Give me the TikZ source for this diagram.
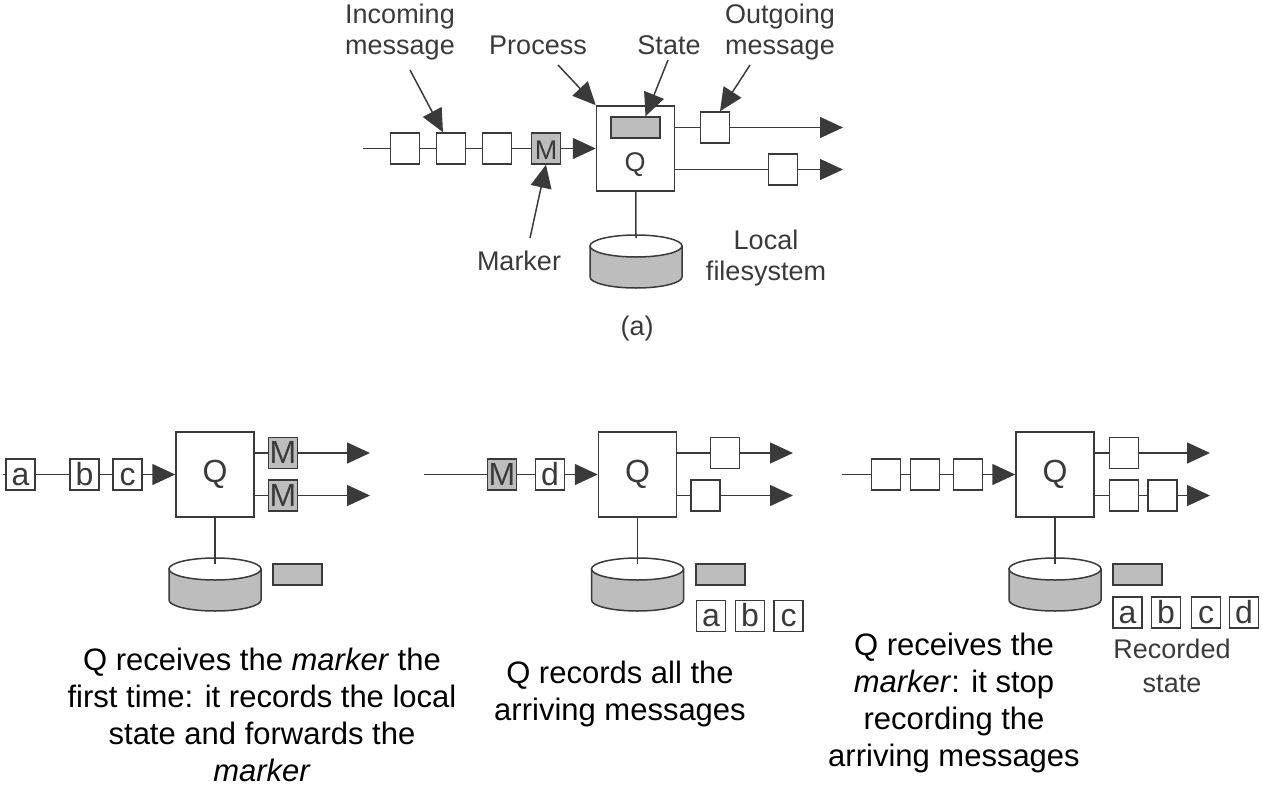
\documentclass[tikz,border=0pt]{standalone}
\usepackage{fontspec}
\setmainfont{Liberation Sans}
\usetikzlibrary{arrows.meta}
\definecolor{boxgray}{HTML}{BDBDBD}
\definecolor{inkgray}{HTML}{3A3A3A}
\newcommand{\drum}[2]{%
  \filldraw[wire,fill=boxgray] ({#1-46},#2) -- ({#1-46},{#2+31})
    arc[start angle=180,end angle=0,x radius=46,y radius=11] -- ({#1+46},#2) -- cycle;
  \filldraw[wire,fill=white] (#1,#2) ellipse [x radius=46,y radius=11];
}

\begin{document}
\begin{tikzpicture}[x=1pt,y=-1pt,line width=1.5pt,
  >={Triangle[length=23pt,width=21pt]},
  every node/.style={font=\fontsize{27}{31}\selectfont,text=inkgray},
  wire/.style={draw=inkgray},
  msg/.style={draw=inkgray,fill=white,minimum width=29pt,minimum height=31pt,inner sep=0pt,
    text height=21pt,text depth=0pt},
  mrk/.style={msg,fill=boxgray},
  proc/.style={draw=inkgray,fill=white,minimum width=78pt,minimum height=85pt,inner sep=0pt},
  slab/.style={draw=inkgray,fill=boxgray,minimum width=49pt,minimum height=21pt,inner sep=0pt},
  caption/.style={font=\fontsize{31}{37}\selectfont,text=black,align=center}]
\useasboundingbox (0,0) rectangle (1263,787);

% (a)
\coordinate (ain) at (363,148.5);
\node[msg] (a1) at (405,148.5) {};
\node[msg] (a2) at (451,148.5) {};
\node[msg] (a3) at (497,148.5) {};
\node[mrk] (am) at (546,148.5) {M};
\node[proc] (aq) at (635.5,148.5) {};
\node[slab] (ast) at (635.5,127.5) {};
\node (aql) at (635,165) {Q};
\node[msg] (ao1) at (715,127.5) {};
\node[msg] (ao2) at (783,169.5) {};
\coordinate (aend1) at (843,127.5);
\coordinate (aend2) at (843,169.5);
\drum{636}{246}
\coordinate (adisk) at (636,238);
\draw[wire] (ain) -- (a1) -- (a2) -- (a3) -- (am);
\draw[wire,->] (am) -- (aq);
\draw[wire] (aq.east |- ao1) -- (ao1);
\draw[wire,->] (ao1) -- (aend1);
\draw[wire] (aq.east |- ao2) -- (ao2);
\draw[wire,->] (ao2) -- (aend2);
\draw[wire] (aq) -- (adisk);

\node[align=center] (lin) at (400,32) {Incoming\\message};
\node (lproc) at (538,45) {Process};
\node (lstate) at (669,45) {State};
\node[align=center] (lout) at (780,32) {Outgoing\\message};
\node (lmark) at (519,261) {Marker};
\node[align=center] (lfs) at (766,258) {Local\\filesystem};
\node (lsub) at (637,329) {(a)};
\coordinate (pin) at (410,70);
\coordinate (pproc) at (558,65);
\coordinate (pstate) at (668,60);
\coordinate (pout) at (750,65);
\coordinate (pmark) at (530,238);
\draw[wire,->] (pin) -- ([xshift=-8pt]a2.north);
\draw[wire,->] (pproc) -- (aq.north west);
\draw[wire,->] (pstate) -- ([xshift=10pt]ast.north);
\draw[wire,->] (pout) -- ([xshift=5pt]ao1.north);
\draw[wire,->] (pmark) -- (am.south);

\begin{scope}[every node/.append style={font=\fontsize{32}{32}\selectfont}]
% first marker
\coordinate (bin) at (3,474.5);
\node[msg] (b1) at (20.5,474.5) {a};
\node[msg] (b2) at (84.5,474.5) {b};
\node[msg] (b3) at (127.5,474.5) {c};
\node[proc] (bq) at (215,474.5) {Q};
\node[mrk] (bm1) at (283,453) {M};
\node[mrk] (bm2) at (283,495.5) {M};
\coordinate (bend1) at (370,453);
\coordinate (bend2) at (370,495.5);
\drum{215}{569}
\coordinate (bdisk) at (215,564);
\node[slab] (bst) at (297.5,574.5) {};
\draw[wire] (bin) -- (b1) -- (b2) -- (b3);
\draw[wire,->] (b3) -- (bq);
\draw[wire] (bq.east |- bm1) -- (bm1);
\draw[wire,->] (bm1) -- (bend1);
\draw[wire] (bq.east |- bm2) -- (bm2);
\draw[wire,->] (bm2) -- (bend2);
\draw[wire] (bq) -- (bdisk);
\node[caption] (bcap) at (262,715) {Q receives the \textit{marker} the\\first time: it records the local\\state and forwards the\\\textit{marker}};

% recording
\coordinate (cin) at (424,474.5);
\node[mrk] (cm) at (502,474.5) {M};
\node[msg] (c1) at (550,474.5) {d};
\node[proc] (cq) at (637.5,474.5) {Q};
\node[msg] (co1) at (725,453) {};
\node[msg] (co2) at (705.5,495.5) {};
\coordinate (cend1) at (793,453);
\coordinate (cend2) at (793,495.5);
\drum{637.5}{569}
\coordinate (cdisk) at (637.5,564);
\node[slab] (cst) at (720.5,574.5) {};
\node[msg] (ca) at (711,616) {a};
\node[msg] (cb) at (750,616) {b};
\node[msg] (cc) at (788.5,616) {c};
\draw[wire] (cin) -- (cm) -- (c1);
\draw[wire,->] (c1) -- (cq);
\draw[wire] (cq.east |- co1) -- (co1);
\draw[wire,->] (co1) -- (cend1);
\draw[wire] (cq.east |- co2) -- (co2);
\draw[wire,->] (co2) -- (cend2);
\draw[wire] (cq) -- (cdisk);
\node[caption] (ccap) at (620,694) {Q records all the\\arriving messages};

% second marker
\coordinate (din) at (842,474.5);
\node[msg] (d1) at (886,474.5) {};
\node[msg] (d2) at (925,474.5) {};
\node[msg] (d3) at (968,474.5) {};
\node[proc] (dq) at (1055,474.5) {Q};
\node[msg] (do1) at (1124,453) {};
\node[msg] (do2) at (1124,495.5) {};
\node[msg] (do3) at (1162.5,495.5) {};
\coordinate (dend1) at (1210,453);
\coordinate (dend2) at (1210,495.5);
\drum{1055}{569}
\coordinate (ddisk) at (1055,564);
\node[slab] (dst) at (1137.5,574.5) {};
\node[msg] (da) at (1127.5,612.5) {a};
\node[msg] (db) at (1166,612.5) {b};
\node[msg] (dc) at (1206,612.5) {c};
\node[msg] (dd) at (1244,612.5) {d};
\node[align=center,font=\fontsize{27}{34}\selectfont] (drec) at (1172,666) {Recorded\\state};
\draw[wire] (din) -- (d1) -- (d2) -- (d3);
\draw[wire,->] (d3) -- (dq);
\draw[wire] (dq.east |- do1) -- (do1);
\draw[wire,->] (do1) -- (dend1);
\draw[wire] (dq.east |- do2) -- (do2) -- (do3);
\draw[wire,->] (do3) -- (dend2);
\draw[wire] (dq) -- (ddisk);
\node[caption] (dcap) at (954,703) {Q receives the\\\textit{marker}: it stop\\recording the\\arriving messages};
\end{scope}
\end{tikzpicture}
\end{document}
